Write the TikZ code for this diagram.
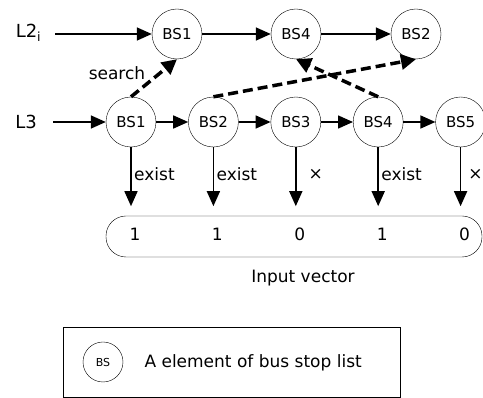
\documentclass[tikz,border=0pt]{standalone}
\usepackage{fontspec}
\setmainfont{DejaVu Sans}
\usepackage{tikz}
\usetikzlibrary{positioning}
\usetikzlibrary{arrows.meta}

\begin{document}
\begin{tikzpicture}[x=1pt, y=-1pt,
      type-stop/.style={circle, draw, thin, minimum size=50pt, inner sep=0pt, font=\fontsize{15}{15}\selectfont},
      type-list/.style={font=\fontsize{18}{18}\selectfont},
      type-label/.style={font=\fontsize{17}{17}\selectfont},
      type-vector/.style={rectangle, draw, thin, rounded corners=20pt, minimum width=376pt, minimum height=41pt},
      every edge/.style={draw, line width=1.6pt, -{Triangle[length=15pt, width=13pt]}},
      search/.style={draw, line width=3.5pt, dash pattern=on 10pt off 5pt, -{Triangle[length=15pt, width=15pt]}}
    ]
      \useasboundingbox (0,0) rectangle (483,398);
      % L2_i list
      \node[type-list] (l2) at (28.5,33) {L2\textsubscript{i}};
      \node[type-stop] (l2bs1) at (177,34) {BS1};
      \node[type-stop] (l2bs4) at (296,34) {BS4};
      \node[type-stop] (l2bs2) at (416,34) {BS2};
      \coordinate (l2in) at (55,34);
      \draw (l2in) edge (l2bs1) (l2bs1) edge (l2bs4) (l2bs4) edge (l2bs2);
      % L3 list
      \node[type-list] (l3) at (26,122) {L3};
      \node[type-stop] (l3bs1) at (131,122) {BS1};
      \node[type-stop, right=32pt of l3bs1] (l3bs2) {BS2};
      \node[type-stop, right=32pt of l3bs2] (l3bs3) {BS3};
      \node[type-stop, right=32pt of l3bs3] (l3bs4) {BS4};
      \node[type-stop, right=32pt of l3bs4] (l3bs5) {BS5};
      \coordinate (l3in) at (53,122);
      \draw (l3in) edge (l3bs1) (l3bs1) edge (l3bs2) (l3bs2) edge (l3bs3)
            (l3bs3) edge (l3bs4) (l3bs4) edge (l3bs5);
      % search
      \draw[search] (l3bs1.north) -- (l2bs1.south);
      \draw[search] (l3bs2.north) -- (l2bs2.south);
      \draw[search] (l3bs4.north) -- (l2bs4.south);
      \node[type-label] (lsearch) at (117,73) {search};
      % input vector
      \node[type-vector] (vec) at (294,236.5) {};
      \foreach \i/\v/\t in {1/1/exist, 2/1/exist, 3/0/{}, 4/1/exist, 5/0/{}} {
        \coordinate (d\i) at ([yshift=-59pt]l3bs\i.south);
        \draw (l3bs\i.south) edge (d\i);
        \node[type-label, anchor=west, inner sep=1pt] (t\i) at ([xshift=2pt, yshift=32pt]d\i) {\t};
        \node[type-label] (v\i) at ([xshift=4pt, yshift=-28pt]d\i) {\v};
      }
      \node[type-label] (x3) at ([xshift=20pt, yshift=32pt]d3) {×};
      \node[type-label, inner sep=0pt] (x5) at ([xshift=15pt, yshift=32pt]d5) {×};
      \node[type-label] (lvec) at (303,278) {Input vector};
      % legend
      \node[rectangle, draw, thin, minimum width=337pt, minimum height=70pt] (legend) at (231.5,362) {};
      \node[circle, draw, thin, minimum size=40pt, inner sep=0pt, font=\fontsize{11}{11}\selectfont] (key) at (103,362) {BS};
      \node[type-label, anchor=west] (keytext) at (141,363) {A element of bus stop list};
    \end{tikzpicture}
\end{document}
